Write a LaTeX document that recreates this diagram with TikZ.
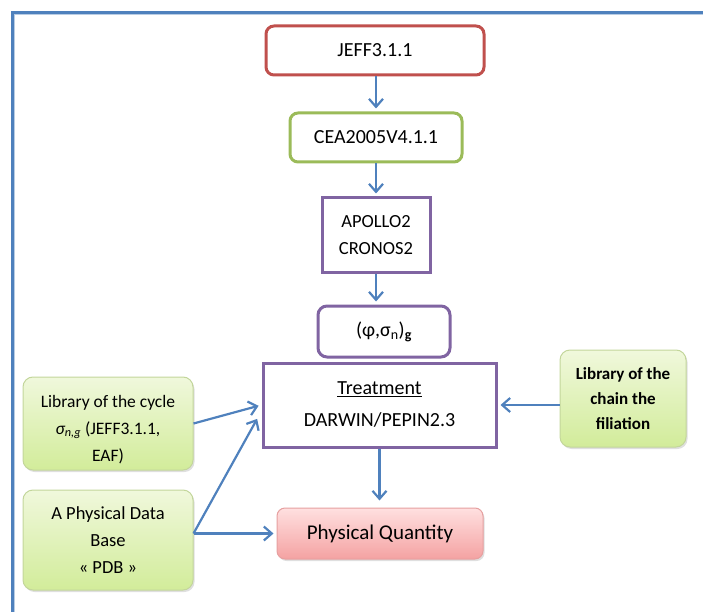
\documentclass[tikz,border=0pt]{standalone}
\usepackage{fontspec}
\setmainfont{Carlito}
\usetikzlibrary{arrows.meta,shadows}
\definecolor{myblue}{HTML}{4F81BD}
\definecolor{myred}{HTML}{C0504D}
\definecolor{mygreen}{HTML}{9BBB59}
\definecolor{mypurple}{HTML}{8064A2}
\definecolor{libborder}{HTML}{C3D69B}
\definecolor{libtop}{HTML}{F0F8DC}
\definecolor{libbot}{HTML}{D2EC9A}
\definecolor{pqtop}{HTML}{FFE0E0}
\definecolor{pqbot}{HTML}{F4A2A2}
\definecolor{pqborder}{HTML}{E6A0A0}
\begin{document}
\begin{tikzpicture}[x=1pt,y=-1pt,
  box/.style={draw, line width=3pt, align=center, inner sep=0pt, font=\fontsize{20}{27}\selectfont},
  redbox/.style={box, draw=myred, fill=white, rounded corners=8pt},
  greenbox/.style={box, draw=mygreen, fill=white, rounded corners=8pt},
  purplebox/.style={box, draw=mypurple, fill=white},
  purpleround/.style={box, draw=mypurple, fill=white, rounded corners=9pt},
  libbox/.style={draw=libborder, line width=1pt, align=center, inner sep=0pt,
    top color=libtop, bottom color=libbot, rounded corners=10pt,
    drop shadow={shadow xshift=1.5pt, shadow yshift=-2pt, opacity=0.25},
    font=\fontsize{18.5}{27}\selectfont},
  pqbox/.style={draw=pqborder, line width=1pt, align=center, inner sep=0pt,
    top color=pqtop, bottom color=pqbot, rounded corners=8pt,
    drop shadow={shadow xshift=1.5pt, shadow yshift=-2pt, opacity=0.25},
    font=\fontsize{21}{27}\selectfont},
  arr/.style={draw=myblue, line width=2.2pt, shorten >=3pt,
    -{Straight Barb[length=8pt,width=14pt,line width=2.2pt]}}
]
\useasboundingbox (0,0) rectangle (703,612);
% frame
\draw[myblue, line width=3pt] (12.5,612) -- (12.5,12.5) -- (703,12.5);
\draw[myblue!40, line width=1pt] (14.8,612) -- (14.8,14.8) -- (703,14.8);

\node[redbox, minimum width=218pt, minimum height=49pt] (jeff) at (375,50.5) {JEFF3.1.1};
\node[greenbox, minimum width=172pt, minimum height=49pt] (cea) at (376,137.5) {CEA2005V4.1.1};
\node[purplebox, minimum width=108pt, minimum height=74pt, font=\fontsize{18.5}{27}\selectfont] (apollo) at (376,235) {APOLLO2\\CRONOS2};
\node[purpleround, minimum width=132pt, minimum height=51pt] (phi) at (384,331.5) {(φ,σ\textsubscript{n})\textsubscript{\textbf{g}}};
\node[purplebox, minimum width=233pt, minimum height=84pt, font=\fontsize{20}{27}\selectfont] (treat) at (379.5,405) {\underline{Treatment}\\[5pt]DARWIN/PEPIN2.3};
\node[pqbox, minimum width=206pt, minimum height=51pt] (pq) at (380,533.5) {Physical Quantity};

\node[libbox, minimum width=170pt, minimum height=93pt, font=\fontsize{17.5}{27}\selectfont] (lib) at (108,423.5) {\rule{0pt}{24pt}Library of the cycle\\{\itshape σ}\textsubscript{\itshape n,g} (JEFF3.1.1,\\EAF)};
\node[libbox, minimum width=170pt, minimum height=100pt] (pdb) at (108,540) {A Physical Data\\Base\\« PDB »};
\node[libbox, minimum width=126pt, minimum height=97pt, font=\fontsize{17}{25}\selectfont\bfseries] (libc) at (623,398.5) {Library of the\\chain the\\filiation};

\draw[arr] (jeff.south -| cea.north) -- (cea.north);
\draw[arr] (cea.south) -- (cea.south |- apollo.north);
\draw[arr] (apollo.south) -- (apollo.south |- phi.north);
\draw[arr, shorten >=7pt] (treat.south) -- (treat.south |- pq.north);
\draw[arr] (libc.west |- treat.east) -- (treat.east);
\draw[arr] (lib.east) -- (treat.west);
\draw[arr, shorten >=9pt] (pdb.east |- pq.west) -- ([yshift=-6pt]treat.west);
\draw[arr] (pdb.east |- pq.west) -- (pq.west);
\end{tikzpicture}
\end{document}
